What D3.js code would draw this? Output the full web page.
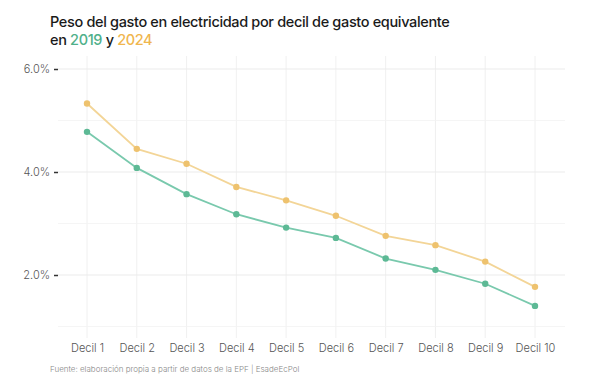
<!DOCTYPE html>
<html>
<head>
<meta charset="utf-8">
<script src="https://cdn.jsdelivr.net/npm/d3@7"></script>
<style>
  body { margin: 0; background: #fff; }
  svg text { font-family: Inter, "Noto Sans", sans-serif; }
</style>
</head>
<body>
<div id="chart"></div>
<script>
// data (percent)
const deciles = ["Decil 1","Decil 2","Decil 3","Decil 4","Decil 5","Decil 6","Decil 7","Decil 8","Decil 9","Decil 10"];
const values2019 = [4.78, 4.08, 3.57, 3.18, 2.92, 2.72, 2.32, 2.10, 1.83, 1.40];
const values2024 = [5.33, 4.45, 4.16, 3.71, 3.45, 3.15, 2.76, 2.58, 2.26, 1.77];
const yTicks = [2, 4, 6];
const yMinor = [1, 3, 5];

const W = 600, H = 388;
const margin = {top: 56, right: 35, bottom: 50, left: 58};

const svg = d3.select("#chart").append("svg")
  .attr("width", W).attr("height", H);

const x = d3.scalePoint()
  .domain(deciles)
  .range([87, 535]);

const y = d3.scaleLinear()
  .domain([1, 6])
  .range([326.5, 69]);

const panelTop = margin.top, panelBottom = H - margin.bottom;

// grid
const grid = svg.append("g");
grid.selectAll(".vg").data(deciles).join("line")
  .attr("x1", d => x(d)).attr("x2", d => x(d))
  .attr("y1", panelTop).attr("y2", panelBottom)
  .attr("stroke", "#ececec").attr("stroke-width", 0.8);
grid.selectAll(".hg").data(yTicks.concat(yMinor)).join("line")
  .attr("x1", margin.left).attr("x2", W - margin.right)
  .attr("y1", d => y(d)).attr("y2", d => y(d))
  .attr("stroke", d => yTicks.includes(d) ? "#ebebeb" : "#f3f3f3")
  .attr("stroke-width", d => yTicks.includes(d) ? 1 : 0.8);

// y axis
const yAxis = svg.append("g")
  .attr("transform", `translate(${margin.left},0)`)
  .call(d3.axisLeft(y).tickValues(yTicks).tickFormat(d => d.toFixed(1) + "%").tickSize(4).tickPadding(4));
yAxis.select(".domain").remove();
yAxis.selectAll(".tick line").attr("stroke", "#333").attr("stroke-width", 1.5);
yAxis.selectAll(".tick text").attr("fill", "#555").attr("font-size", 11).attr("font-weight", 300);

// x axis
const xAxis = svg.append("g")
  .attr("transform", `translate(0,${panelBottom})`)
  .call(d3.axisBottom(x).tickSize(0).tickPadding(6));
xAxis.select(".domain").remove();
xAxis.selectAll(".tick text").attr("fill", "#555").attr("font-size", 11).attr("font-weight", 300);

// series
const series = [
  {vals: values2019, line: "#79c9ad", dot: "#5db995"},
  {vals: values2024, line: "#f3d597", dot: "#eec26e"}
];
const line = d3.line().x((d, i) => x(deciles[i])).y(d => y(d));
series.forEach(s => {
  svg.append("path").datum(s.vals)
    .attr("d", line)
    .attr("fill", "none")
    .attr("stroke", s.line)
    .attr("stroke-width", 1.8);
  svg.selectAll(null).data(s.vals).join("circle")
    .attr("cx", (d, i) => x(deciles[i]))
    .attr("cy", d => y(d))
    .attr("r", 3.2)
    .attr("fill", s.dot);
});

// title
const title = svg.append("text").attr("x", 50).attr("y", 27)
  .attr("font-size", 14.5).attr("font-weight", 500).attr("fill", "#1a1a1a")
  .attr("letter-spacing", -0.35);
title.append("tspan").text("Peso del gasto en electricidad por decil de gasto equivalente");
const t2 = svg.append("text").attr("x", 50).attr("y", 45)
  .attr("font-size", 14.5).attr("font-weight", 500).attr("fill", "#1a1a1a")
  .attr("letter-spacing", -0.35);
t2.append("tspan").text("en ");
t2.append("tspan").attr("fill", "#4fb08a").text("2019");
t2.append("tspan").text(" y ");
t2.append("tspan").attr("fill", "#f0b64e").text("2024");

// caption
svg.append("text").attr("x", 50).attr("y", 372)
  .attr("font-size", 8).attr("font-weight", 300).attr("fill", "#888")
  .text("Fuente: elaboración propia a partir de datos de la EPF | EsadeEcPol");
</script>
</body>
</html>
